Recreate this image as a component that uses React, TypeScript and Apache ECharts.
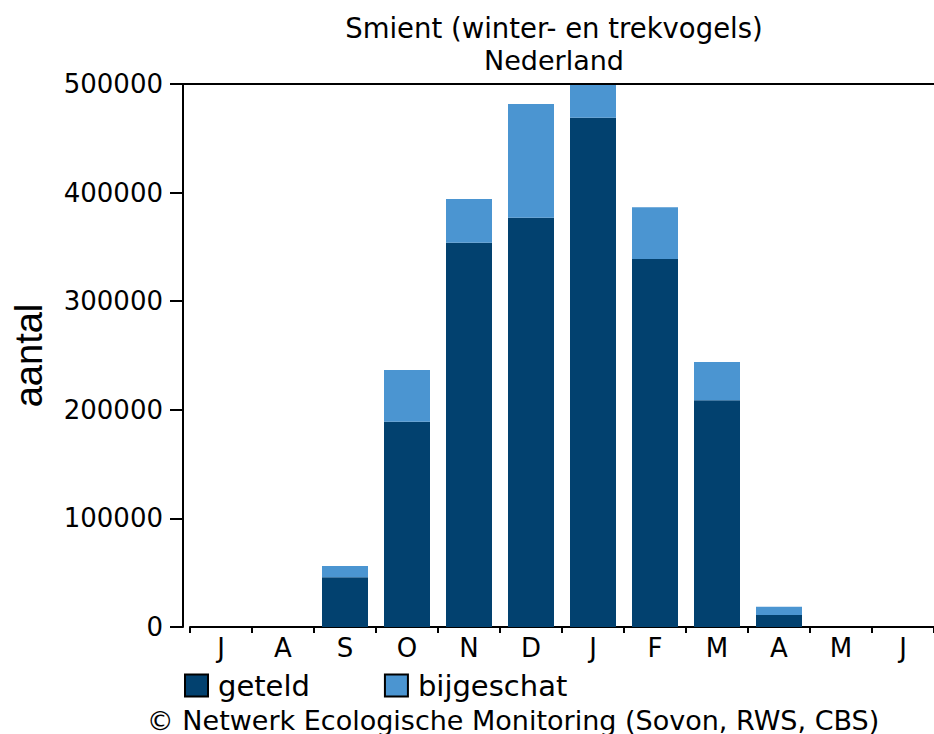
import React, { useEffect, useRef } from "react";
import * as echarts from "echarts";

const months = ["J", "A", "S", "O", "N", "D", "J", "F", "M", "A", "M", "J"];
const geteld = [0, 0, 45800, 189000, 353900, 376900, 469000, 338900, 208700, 11000, 0, 0];
const bijgeschat = [0, 0, 10400, 47600, 40200, 104700, 31000, 47600, 35300, 7700, 0, 0];
const yTicks = { min: 0, max: 500000, interval: 100000 };

const DARK = "#02416f";
const LIGHT = "#4b95d1";
const FONT = "DejaVu Sans";

export default function App() {
  const ref = useRef<HTMLDivElement>(null);
  useEffect(() => {
    if (!ref.current) return;
    const chart = echarts.init(ref.current, null, { renderer: "svg" });
    const gridLeft = 190;
    const gridTop = 84;
    const axisOffset = 7;
    chart.setOption({
      animation: false,
      backgroundColor: "#ffffff",
      textStyle: { fontFamily: FONT },
      grid: { left: gridLeft, top: gridTop, width: 749, bottom: 107, containLabel: false },
      legend: {
        left: 179,
        top: 666,
        itemWidth: 23,
        itemHeight: 22,
        itemGap: 74,
        icon: "rect",
        textStyle: { fontFamily: FONT, fontSize: 29, color: "#000", padding: [0, 0, 0, 5] },
        itemStyle: { borderColor: "#000", borderWidth: 2 },
        data: ["geteld", "bijgeschat"],
      },
      graphic: [
        {
          type: "text",
          x: 554,
          y: 28,
          style: {
            text: "Smient (winter- en trekvogels)",
            fontFamily: FONT,
            fontSize: 27.5,
            fill: "#000",
            textAlign: "center",
            textVerticalAlign: "middle",
          },
        },
        {
          type: "text",
          x: 554,
          y: 60,
          style: {
            text: "Nederland",
            fontFamily: FONT,
            fontSize: 27,
            fill: "#000",
            textAlign: "center",
            textVerticalAlign: "middle",
          },
        },
        {
          type: "text",
          x: 513,
          y: 720,
          style: {
            text: "© Netwerk Ecologische Monitoring (Sovon, RWS, CBS)",
            fontFamily: FONT,
            fontSize: 27,
            fill: "#000",
            textAlign: "center",
            textVerticalAlign: "middle",
          },
        },
        {
          type: "line",
          shape: { x1: gridLeft - axisOffset, y1: gridTop, x2: 934, y2: gridTop },
          style: { stroke: "#000", lineWidth: 2 },
          z: 10,
        },
      ],
      xAxis: {
        type: "category",
        data: months,
        axisLine: { lineStyle: { color: "#000", width: 2 } },
        axisTick: { show: true, length: 6, interval: 0, lineStyle: { color: "#000", width: 2 } },
        axisLabel: { fontFamily: FONT, fontSize: 26, color: "#000", margin: 8, interval: 0 },
        splitLine: { show: false },
      },
      yAxis: {
        type: "value",
        min: yTicks.min,
        max: yTicks.max,
        interval: yTicks.interval,
        offset: axisOffset,
        name: "aantal",
        nameLocation: "middle",
        nameGap: 135,
        nameRotate: 90,
        nameTextStyle: { fontFamily: "Liberation Sans", fontSize: 38, color: "#000" },
        axisLine: { show: true, lineStyle: { color: "#000", width: 2 } },
        axisTick: { show: true, length: 13, lineStyle: { color: "#000", width: 2 } },
        axisLabel: {
          fontFamily: FONT,
          fontSize: 26,
          color: "#000",
          margin: 20,
          formatter: (v: number) => String(v),
        },
        splitLine: { show: false },
      },
      series: [
        {
          name: "geteld",
          type: "bar",
          stack: "total",
          barWidth: 46,
          clip: true,
          itemStyle: { color: DARK },
          data: geteld,
        },
        {
          name: "bijgeschat",
          type: "bar",
          stack: "total",
          barWidth: 46,
          clip: true,
          itemStyle: { color: LIGHT },
          data: bijgeschat,
        },
      ],
    });
    return () => chart.dispose();
  }, []);
  return <div ref={ref} style={{ width: 934, height: 734, position: "absolute", left: 0, top: 0 }} />;
}
